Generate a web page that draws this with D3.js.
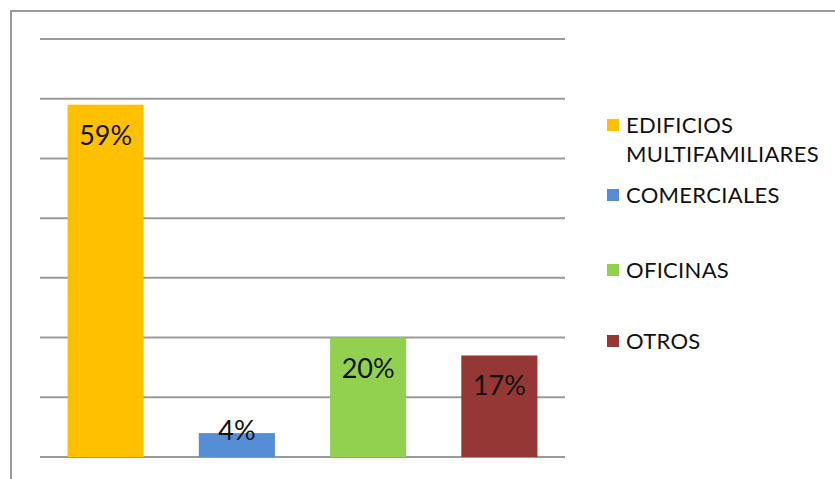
<!DOCTYPE html>
<html>
<head>
<meta charset="utf-8">
<script src="https://cdn.jsdelivr.net/npm/d3@7"></script>
<style>
  html, body { margin: 0; padding: 0; background: #fff; }
  svg { display: block; }
  text { font-family: Lato, "Noto Sans", sans-serif; fill: #111; }
</style>
</head>
<body>
<svg id="chart" width="835" height="479"></svg>
<script>
// Building types and their share of the total
const categories = ["EDIFICIOS MULTIFAMILIARES", "COMERCIALES", "OFICINAS", "OTROS"];
const legendLines = [["EDIFICIOS", "MULTIFAMILIARES"], ["COMERCIALES"], ["OFICINAS"], ["OTROS"]];
const values = [0.59, 0.04, 0.20, 0.17];
const labels = ["59%", "4%", "20%", "17%"];
const colors = ["#FFC000", "#558ED5", "#92D050", "#953735"];
const gridTicks = [0, 0.1, 0.2, 0.3, 0.4, 0.5, 0.6, 0.7];

const svg = d3.select("#chart");
const W = 835, H = 479;

// Frame: left and top edges
svg.append("line").attr("x1", 11).attr("x2", 11).attr("y1", 10).attr("y2", H)
  .attr("stroke", "#9a9a9a").attr("stroke-width", 2);
svg.append("line").attr("x1", 10).attr("x2", W).attr("y1", 11).attr("y2", 11)
  .attr("stroke", "#9a9a9a").attr("stroke-width", 2);

const plot = { left: 40, right: 565, top: 39, bottom: 457 };

const x = d3.scaleBand().domain(categories)
  .range([plot.left, plot.right]).paddingInner(0.42).paddingOuter(0.21);
const y = d3.scaleLinear().domain([0, 0.7]).range([plot.bottom, plot.top]);

// Horizontal gridlines
svg.append("g").selectAll("line").data(gridTicks).join("line")
  .attr("x1", plot.left).attr("x2", plot.right)
  .attr("y1", d => y(d)).attr("y2", d => y(d))
  .attr("stroke", "#9a9a9a").attr("stroke-width", 2);

// Bars
svg.append("g").selectAll("rect").data(values).join("rect")
  .attr("x", (d, i) => x(categories[i]))
  .attr("y", d => y(d))
  .attr("width", x.bandwidth())
  .attr("height", d => y(0) - y(d))
  .attr("fill", (d, i) => colors[i]);

// Value labels inside the top of each bar
svg.append("g").selectAll("text").data(values).join("text")
  .attr("x", (d, i) => x(categories[i]) + x.bandwidth() / 2)
  .attr("y", d => Math.min(y(d) + 40, y(0) - 17))
  .attr("text-anchor", "middle")
  .style("font-size", "27px")
  .text((d, i) => labels[i]);

// Legend
const legendY = [133, 203, 278, 349];
const lg = svg.append("g");
legendLines.forEach((lines, i) => {
  const base = legendY[i];
  lg.append("rect").attr("x", 607).attr("y", base - 14).attr("width", 12).attr("height", 12)
    .attr("fill", colors[i]);
  lines.forEach((t, j) => {
    lg.append("text").attr("x", 626).attr("y", base + j * 29)
      .style("font-size", "22px").style("letter-spacing", "0.3px")
      .text(t);
  });
});
</script>
</body>
</html>
